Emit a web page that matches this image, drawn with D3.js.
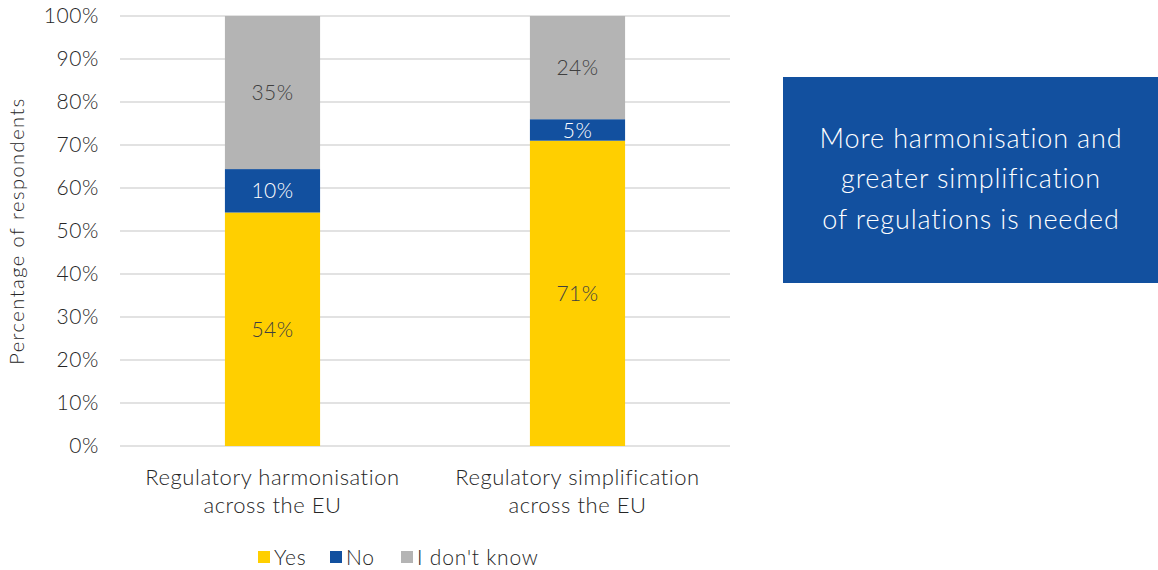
<!doctype html>
<html lang="en">
<head>
<meta charset="utf-8" />
<style>
  body { margin: 0; background: #fff; }
  svg text { font-family: Lato, "Noto Sans", sans-serif; font-weight: 300; fill: #262626; }
  .grid line { stroke: #d9d9d9; stroke-width: 1.5px; }
  .tick-label { font-size: 21px; letter-spacing: 0.6px; }
  .seg-label { font-size: 21px; letter-spacing: 0.5px; text-anchor: middle; }
  .cat-label { font-size: 22px; letter-spacing: 0.55px; text-anchor: middle; }
  .legend-label { font-size: 21px; letter-spacing: 0.8px; }
  .box-text { font-size: 27px; letter-spacing: 0.85px; fill: #fff; text-anchor: middle; }
</style>
</head>
<body>
<div id="chart"></div>
<script src="https://cdn.jsdelivr.net/npm/d3@7"></script>
<script>
  var width = 1158, height = 570;

  // data
  var categories = ["Regulatory harmonisation across the EU", "Regulatory simplification across the EU"];
  var catLines = [["Regulatory harmonisation", "across the EU"], ["Regulatory simplification", "across the EU"]];
  var seriesNames = ["Yes", "No", "I don't know"];
  var yesValues = [54.3, 71.0];
  var noValues = [10.1, 5.0];
  var dontKnowValues = [35.6, 24.0];
  var valueLabels = [["54%", "10%", "35%"], ["71%", "5%", "24%"]];
  var yTicks = [0, 10, 20, 30, 40, 50, 60, 70, 80, 90, 100];
  var boxLines = ["More harmonisation and", "greater simplification", "of regulations is needed"];

  var colors = ["#ffcf00", "#12509f", "#b4b4b4"];
  var labelColors = ["#404040", "#ffffff", "#404040"];

  var plot = { left: 120, right: 730, top: 16, bottom: 446 };

  var svg = d3.select("#chart").append("svg")
      .attr("width", width)
      .attr("height", height);

  var x = d3.scaleBand().domain(categories).range([plot.left, plot.right]).padding(0);
  var y = d3.scaleLinear().domain([0, 100]).range([plot.bottom, plot.top]);
  var barW = x.bandwidth() * 0.312;

  // gridlines
  svg.append("g").attr("class", "grid")
    .selectAll("line").data(yTicks).enter().append("line")
      .attr("x1", plot.left).attr("x2", plot.right)
      .attr("y1", d => y(d)).attr("y2", d => y(d));

  // y tick labels
  svg.append("g").selectAll("text").data(yTicks).enter().append("text")
      .attr("class", "tick-label")
      .attr("x", 99).attr("y", d => y(d))
      .attr("dy", "0.35em")
      .attr("text-anchor", "end")
      .text(d => d + "%");

  // y title
  svg.append("text")
      .attr("transform", "translate(24," + ((plot.top + plot.bottom) / 2) + ") rotate(-90)")
      .attr("text-anchor", "middle")
      .style("font-size", "20px")
      .style("letter-spacing", "1.5px")
      .text("Percentage of respondents");

  // stack
  var rows = categories.map((c, i) => ({ cat: c, Yes: yesValues[i], No: noValues[i], "I don't know": dontKnowValues[i], idx: i }));
  var stacked = d3.stack().keys(seriesNames)(rows);

  var layers = svg.append("g").selectAll("g").data(stacked).enter().append("g")
      .attr("fill", (d, i) => colors[i]);

  layers.selectAll("rect").data(d => d).enter().append("rect")
      .attr("x", d => x(d.data.cat) + x.bandwidth() / 2 - barW / 2)
      .attr("width", barW)
      .attr("y", d => y(d[1]))
      .attr("height", d => y(d[0]) - y(d[1]));

  stacked.forEach(function(layer, si) {
    svg.append("g").selectAll("text").data(layer).enter().append("text")
        .attr("class", "seg-label")
        .attr("x", d => x(d.data.cat) + x.bandwidth() / 2)
        .attr("y", d => (y(d[0]) + y(d[1])) / 2)
        .attr("dy", "0.36em")
        .style("fill", labelColors[si])
        .text(d => valueLabels[d.data.idx][si]);
  });

  // category labels
  var cat = svg.append("g").selectAll("text").data(categories).enter().append("text")
      .attr("class", "cat-label")
      .attr("x", d => x(d) + x.bandwidth() / 2)
      .attr("y", 485);
  cat.selectAll("tspan").data((d, i) => catLines[i]).enter().append("tspan")
      .attr("x", function() { return this.parentNode.getAttribute("x"); })
      .attr("dy", (d, i) => i === 0 ? 0 : 28)
      .text(d => d);

  // legend
  var legendX = [258, 330, 401];
  var legend = svg.append("g").selectAll("g").data(seriesNames).enter().append("g")
      .attr("transform", (d, i) => "translate(" + legendX[i] + ",551)");
  legend.append("rect").attr("width", 12).attr("height", 12).attr("fill", (d, i) => colors[i]);
  legend.append("text").attr("class", "legend-label").attr("x", 16).attr("y", 6).attr("dy", "0.36em")
      .text(d => d);

  // callout box
  svg.append("rect")
      .attr("x", 783).attr("y", 77).attr("width", 375).attr("height", 206)
      .attr("fill", "#12509f");
  svg.append("g").selectAll("text").data(boxLines).enter().append("text")
      .attr("class", "box-text")
      .attr("x", 971)
      .attr("y", (d, i) => 138 + i * 40.5)
      .attr("dy", "0.36em")
      .text(d => d);
</script>
</body>
</html>
